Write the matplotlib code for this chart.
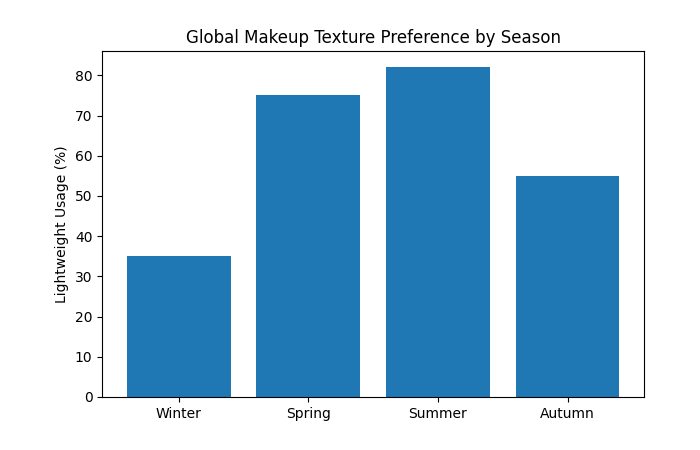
import matplotlib
matplotlib.use('Agg')
import matplotlib.pyplot as plt

seasons = ['Winter', 'Spring', 'Summer', 'Autumn']
usage = [35, 75, 82, 55]

fig, ax = plt.subplots(figsize=(7, 4.5), dpi=100)
fig.subplots_adjust(left=0.146, right=0.92, top=0.887, bottom=0.118)
ax.bar(seasons, usage, color='#1f77b4')
ax.set_title('Global Makeup Texture Preference by Season')
ax.set_ylabel('Lightweight Usage (%)')
fig.savefig('out.png')
